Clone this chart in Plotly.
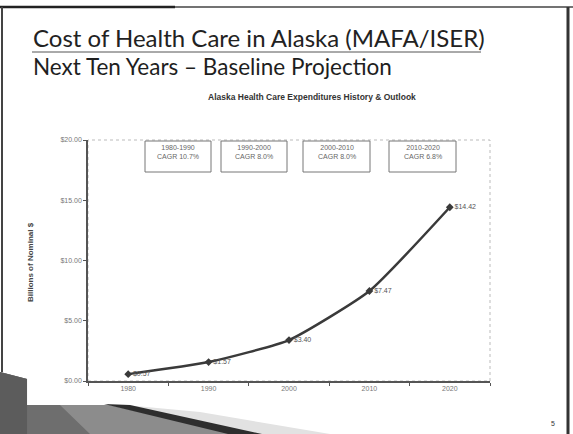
import plotly.graph_objects as go

# ---- data ----
years = ["1980", "1990", "2000", "2010", "2020"]
spend = [0.57, 1.57, 3.40, 7.47, 14.42]
periods = ["1980-1990", "1990-2000", "2000-2010", "2010-2020"]
cagr = ["10.7%", "8.0%", "8.0%", "6.8%"]
labels = ["$%.2f" % v for v in spend]

W, H = 573, 434
L, R, T, B = 88, 490, 140, 381  # plot area in px


def px(x):
    return (x - L) / (R - L)


def py(y):
    return (B - y) / (B - T)


fig = go.Figure()
fig.add_trace(go.Scatter(
    x=years, y=spend, mode="lines+markers+text",
    line=dict(color="#3a3a3a", width=2.5, shape="spline", smoothing=0.5),
    marker=dict(symbol="diamond", size=6, color="#3a3a3a"),
    text=labels, textposition="middle right",
    textfont=dict(family="Liberation Sans", size=7, color="#555"),
    cliponaxis=False, hoverinfo="skip", showlegend=False,
))

shapes = []
annos = []

# plot border (dotted)
shapes.append(dict(type="rect", xref="paper", yref="paper", x0=0, x1=1, y0=0, y1=1,
                   line=dict(color="#bbbbbb", width=1, dash="dot"), layer="below"))

# CAGR boxes
box_x = [(145, 211), (221, 287), (303, 370), (389, 456)]
for (x0, x1), p, c in zip(box_x, periods, cagr):
    shapes.append(dict(type="rect", xref="paper", yref="paper",
                       x0=px(x0), x1=px(x1), y0=py(172), y1=py(141),
                       line=dict(color="#777", width=1), fillcolor="white"))
    annos.append(dict(xref="paper", yref="paper", x=px((x0 + x1) / 2), y=py(152),
                      text=p + "<br>CAGR " + c, showarrow=False,
                      font=dict(family="Liberation Sans", size=7, color="#666"),
                      xanchor="center", yanchor="middle"))

# slide frame
shapes.append(dict(type="line", xref="paper", yref="paper", x0=px(0), x1=px(573), y0=py(7), y1=py(7),
                   line=dict(color="#444", width=1.5)))
shapes.append(dict(type="line", xref="paper", yref="paper", x0=px(0), x1=px(175), y0=py(7), y1=py(7),
                   line=dict(color="#222", width=2.5)))
shapes.append(dict(type="line", xref="paper", yref="paper", x0=px(2), x1=px(2), y0=py(7), y1=py(372),
                   line=dict(color="#444", width=2)))
shapes.append(dict(type="line", xref="paper", yref="paper", x0=px(568), x1=px(568), y0=py(7), y1=py(434),
                   line=dict(color="#333", width=3)))


def poly(pts, color):
    d = "M " + " L ".join("%.4f,%.4f" % (px(a), py(b)) for a, b in pts) + " Z"
    return dict(type="path", xref="paper", yref="paper", path=d,
                fillcolor=color, line=dict(width=0))


# bottom-left decoration
shapes.append(poly([(125, 405), (200, 412), (330, 434), (255, 434)], "#e2e2e2"))
shapes.append(poly([(0, 372), (27, 379), (27, 405), (110, 405), (235, 434), (0, 434)], "#8c8c8c"))
shapes.append(poly([(0, 372), (27, 379), (27, 405), (60, 405), (90, 434), (0, 434)], "#6e6e6e"))
shapes.append(poly([(0, 372), (27, 379), (27, 434), (0, 434)], "#5c5c5c"))
shapes.append(poly([(104, 404), (130, 405), (262, 434), (228, 434)], "#2e2e2e"))

# title underline
shapes.append(dict(type="line", xref="paper", yref="paper", x0=px(32), x1=px(481), y0=py(52), y1=py(52),
                   line=dict(color="#555", width=1)))

annos += [
    dict(xref="paper", yref="paper", x=px(31), y=py(38),
         text="Cost of Health Care in Alaska (MAFA/ISER)", showarrow=False,
         font=dict(family="Lato", size=24, color="#222"), xanchor="left", yanchor="middle"),
    dict(xref="paper", yref="paper", x=px(31), y=py(67),
         text="Next Ten Years – Baseline Projection", showarrow=False,
         font=dict(family="Lato", size=22.5, color="#1e1e1e"), xanchor="left", yanchor="middle"),
    dict(xref="paper", yref="paper", x=px(312), y=py(97),
         text="<b>Alaska Health Care Expenditures History & Outlook</b>", showarrow=False,
         font=dict(family="Liberation Sans", size=8.5, color="#333"), xanchor="center", yanchor="middle"),
    dict(xref="paper", yref="paper", x=px(30), y=py(262),
         text="<b>Billions of Nominal $</b>", showarrow=False, textangle=-90,
         font=dict(family="Liberation Sans", size=8, color="#444"), xanchor="center", yanchor="middle"),
    dict(xref="paper", yref="paper", x=px(553), y=py(423),
         text="5", showarrow=False,
         font=dict(family="Liberation Sans", size=7, color="#333"), xanchor="center", yanchor="middle"),
]

fig.update_layout(
    width=W, height=H, margin=dict(l=L, r=W - R, t=T, b=H - B),
    paper_bgcolor="white", plot_bgcolor="white",
    shapes=shapes, annotations=annos,
    xaxis=dict(type="category", range=[-0.5, 4.5], showline=True, linecolor="#555", linewidth=1.5,
               ticks="outside", tickson="boundaries", ticklen=3, tickcolor="#555",
               showgrid=False, zeroline=False,
               tickfont=dict(family="Liberation Sans", size=7, color="#777")),
    yaxis=dict(range=[0, 20], dtick=5, tickprefix="$", tickformat=".2f",
               showline=True, linecolor="#555", linewidth=1.5,
               ticks="outside", ticklen=3, tickcolor="#555",
               showgrid=False, zeroline=False,
               tickfont=dict(family="Liberation Sans", size=7, color="#777")),
)

fig.write_html("out.html", config={"displayModeBar": False},
               post_script="document.body.style.margin='0';document.body.style.overflow='hidden';")
